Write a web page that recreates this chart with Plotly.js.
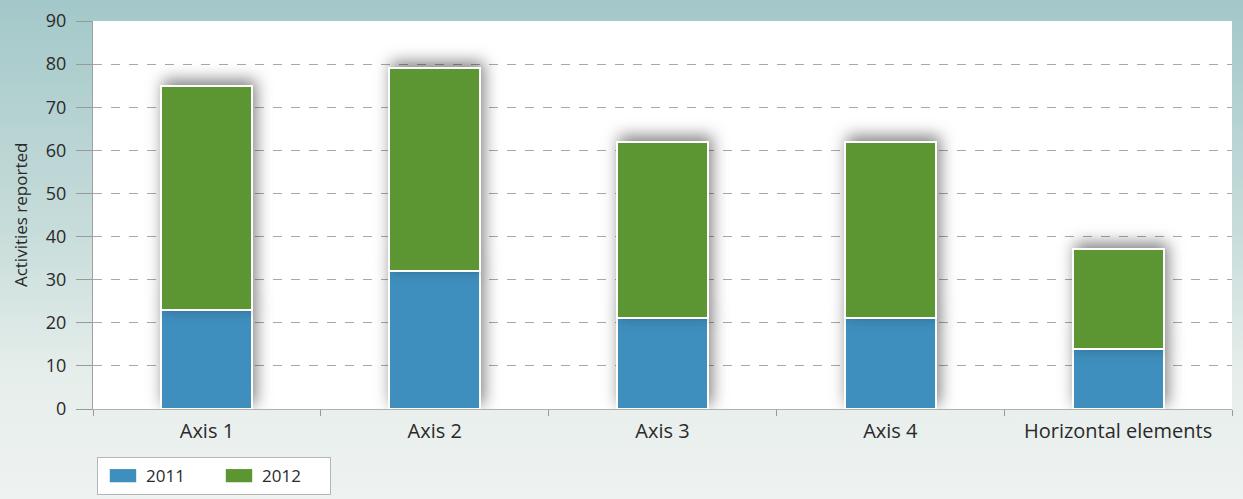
<!DOCTYPE html>
<html>
<head>
<meta charset="utf-8">
<script src="https://cdn.plot.ly/plotly-3.0.1.min.js"></script>
<style>
html, body { margin:0; padding:0; }
body { width:1243px; height:499px; background: linear-gradient(to bottom, #a3c8c9 0%, #c6dcda 45%, #e6eeeb 75%, #eef2f0 100%); overflow:hidden; }
#chart { width:1243px; height:499px; }
.barlayer .point path { filter: drop-shadow(3px -5px 8px rgba(0,0,0,0.5)); }
.legendpoints path { transform-box: view-box; transform-origin: 0 0; transform: translate(25px, 0px) scale(2.2, 1.1); stroke-width:0 !important; }
</style>
</head>
<body>
<div id="chart"></div>
<script>
var categories = ["Axis 1", "Axis 2", "Axis 3", "Axis 4", "Horizontal elements"];
var values2011 = [23, 32, 21, 21, 14];
var values2012 = [52, 47, 41, 41, 23];
var seriesNames = ["2011", "2012"];
var colors = ["#3f8fbe", "#5c9632"];
var yTicks = [0, 10, 20, 30, 40, 50, 60, 70, 80, 90];
var yTitle = "Activities reported";

var font = "'Open Sans', 'Noto Sans', sans-serif";
var traces = [
  {type:"bar", name:seriesNames[0], x:categories, y:values2011,
   marker:{color:colors[0], line:{color:"#ffffff", width:2}}},
  {type:"bar", name:seriesNames[1], x:categories, y:values2012,
   marker:{color:colors[1], line:{color:"#ffffff", width:2}}}
];
var layout = {
  width:1243, height:499,
  barmode:"stack", bargap:0.6,
  paper_bgcolor:"rgba(0,0,0,0)", plot_bgcolor:"#ffffff",
  margin:{l:93, r:11, t:21, b:90, autoexpand:false},
  font:{family:font, color:"#2a2a2a", size:16},
  showlegend:true,
  legend:{orientation:"h", x:0.0035, y:-0.124, xanchor:"left", yanchor:"top",
    bgcolor:"#ffffff", bordercolor:"#b5b5b5", borderwidth:1,
    font:{size:17, family:font}, traceorder:"normal", itemwidth:38, entrywidth:63},
  annotations:[{text:yTitle, xref:"paper", yref:"paper", x:-0.064, y:0.5, textangle:-90,
    showarrow:false, xanchor:"center", yanchor:"middle", font:{size:17, family:font, color:"#2a2a2a"}}],
  xaxis:{type:"category", tickson:"boundaries", ticks:"outside", ticklen:6, tickcolor:"#999",
    showline:true, linecolor:"#b0b0b0", linewidth:1, tickfont:{size:20, family:font},
    showgrid:false, ticklabelstandoff:4},
  yaxis:{range:[0,90], tickvals:yTicks, ticks:"outside", ticklen:16, tickcolor:"#999",
    showline:true, linecolor:"#a0a0a0", linewidth:1, showgrid:true, gridcolor:"#a8a8a8",
    griddash:"dash", gridwidth:1, zeroline:false, tickfont:{size:18, family:font},
    ticklabelstandoff:6}
};
Plotly.newPlot("chart", traces, layout, {displayModeBar:false, staticPlot:true});
</script>
</body>
</html>
